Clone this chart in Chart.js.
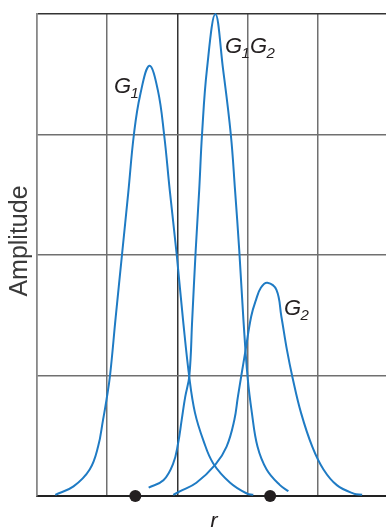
<!DOCTYPE html>
<html>
<head>
<meta charset="utf-8">
<script src="https://cdn.jsdelivr.net/npm/chart.js@4/dist/chart.umd.min.js"></script>
<style>
  html, body { margin: 0; padding: 0; background: #fff; overflow: hidden; }
  #wrap { width: 386px; height: 527px; position: relative; }
  canvas { display: block; }
</style>
</head>
<body>
<div id="wrap"><canvas id="c"></canvas></div>
<script>
/* ─── Data (r in grid units, amplitude in grid units) ─────────── */

const X_TICKS = [0, 1, 2, 3, 4];
const Y_TICKS = [0, 1, 2, 3, 4];

const G1_R = [0.26, 0.52, 0.75, 0.87, 0.94, 0.99, 1.04, 1.12, 1.21, 1.3, 1.38, 1.47, 1.6, 1.72, 1.81, 1.89, 1.99, 2.08, 2.17, 2.25, 2.37, 2.51, 2.75, 2.99, 3.08];
const G1_A = [0.01, 0.08, 0.22, 0.41, 0.63, 0.8, 1.0, 1.48, 2.0, 2.52, 3.0, 3.33, 3.57, 3.37, 3.0, 2.54, 2.0, 1.46, 0.98, 0.69, 0.46, 0.27, 0.11, 0.02, 0.01];

const G1G2_R = [1.59, 1.8, 1.94, 2.01, 2.06, 2.11, 2.17, 2.21, 2.26, 2.31, 2.35, 2.42, 2.54, 2.65, 2.76, 2.82, 2.88, 2.94, 3.0, 3.06, 3.14, 3.27, 3.46, 3.58];
const G1G2_A = [0.07, 0.13, 0.27, 0.44, 0.63, 0.82, 1.0, 1.46, 2.04, 2.54, 3.0, 3.54, 4.0, 3.54, 3.0, 2.54, 2.04, 1.46, 0.98, 0.69, 0.41, 0.22, 0.09, 0.04];

const G2_R = [1.94, 2.04, 2.27, 2.54, 2.7, 2.81, 2.86, 2.91, 2.97, 3.05, 3.12, 3.19, 3.28, 3.41, 3.48, 3.56, 3.64, 3.76, 3.92, 4.08, 4.27, 4.51, 4.63];
const G2_A = [0.01, 0.04, 0.11, 0.26, 0.41, 0.63, 0.82, 1.0, 1.21, 1.49, 1.63, 1.73, 1.77, 1.71, 1.49, 1.21, 0.98, 0.69, 0.41, 0.22, 0.09, 0.02, 0.01];

const DOT_R = [1.4, 3.32];
const DOT_A = [0, 0];

/* ─── Style ───────────────────────────────────────────────────── */

const BLUE = '#1f7bc4';
const INK = '#231f20';
const GRID = '#707070';

const toPts = (xs, ys) => xs.map((x, i) => ({ x, y: ys[i] }));

const curve = (label, xs, ys) => ({
  label, data: toPts(xs, ys),
  showLine: true, borderColor: BLUE, borderWidth: 2,
  pointRadius: 0, tension: 0.4,
  clip: false,
});

// subscripted italic label: parts = [['G', false], ['1', true], ...]
function drawSub(ctx, x, y, parts) {
  let cx = x;
  parts.forEach(([t, sub]) => {
    ctx.font = sub ? 'italic 15px "Liberation Sans", Arial, sans-serif'
                   : 'italic 22px "Liberation Sans", Arial, sans-serif';
    ctx.fillText(t, cx, sub ? y + 5 : y);
    cx += ctx.measureText(t).width - (sub ? 0 : 0.5);
  });
}

const labelsPlugin = {
  id: 'labels',
  afterDraw(chart) {
    const ctx = chart.ctx;
    ctx.save();
    ctx.fillStyle = INK;
    ctx.textBaseline = 'alphabetic';
    drawSub(ctx, 114, 93, [['G', false], ['1', true]]);
    drawSub(ctx, 225, 53, [['G', false], ['1', true], ['G', false], ['2', true]]);
    drawSub(ctx, 284, 315, [['G', false], ['2', true]]);

    ctx.font = 'italic 22px "Liberation Sans", Arial, sans-serif';
    ctx.textAlign = 'center';
    ctx.fillText('r', 214, 528);

    ctx.translate(27, 241);
    ctx.rotate(-Math.PI / 2);
    ctx.fillStyle = '#3a3a3a';
    ctx.font = '25px "Liberation Sans", Arial, sans-serif';
    ctx.fillText('Amplitude', 0, 0);
    ctx.restore();
  }
};

new Chart(document.getElementById('c'), {
  type: 'scatter',
  data: {
    datasets: [
      curve('G1', G1_R, G1_A),
      curve('G1G2', G1G2_R, G1G2_A),
      curve('G2', G2_R, G2_A),
      { label: 'r', data: toPts(DOT_R, DOT_A), pointRadius: 6, pointBackgroundColor: INK,
        pointBorderWidth: 0, showLine: false, clip: false },
    ]
  },
  options: {
    responsive: true, maintainAspectRatio: false, animation: false,
    layout: { autoPadding: false, padding: { left: 37, top: 14, right: 0, bottom: 31 } },
    plugins: { legend: { display: false }, tooltip: { enabled: false } },
    scales: {
      x: {
        type: 'linear', min: 0, max: 4.97,
        afterBuildTicks: s => { s.ticks = X_TICKS.map(v => ({ value: v })); },
        ticks: { display: false },
        grid: { color: c => c.tick && c.tick.value === 2 ? '#333' : GRID, lineWidth: 1.5, drawTicks: false },
        border: { display: true, color: '#222', width: 2 },
      },
      y: {
        type: 'linear', min: 0, max: 4,
        afterBuildTicks: s => { s.ticks = Y_TICKS.map(v => ({ value: v })); },
        ticks: { display: false },
        grid: { color: c => c.tick && c.tick.value === 4 ? '#333' : GRID, lineWidth: 1.5, drawTicks: false },
        border: { display: true, color: '#888', width: 1.5 },
      },
    },
  },
  plugins: [labelsPlugin],
});
</script>
</body>
</html>
